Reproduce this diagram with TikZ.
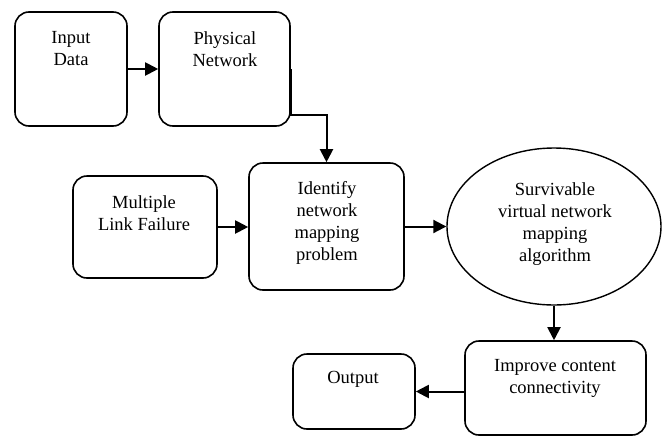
\documentclass[tikz,border=0pt]{standalone}
\usepackage{fontspec}
\setmainfont{Liberation Serif}
\usetikzlibrary{shapes.geometric,arrows.meta,positioning}
\begin{document}
\begin{tikzpicture}[x=1pt,y=-1pt,
  box/.style={draw, line width=1.6pt, rounded corners=14pt, inner sep=0pt},
  txt/.style={align=center, font=\fontsize{18.5pt}{22pt}\selectfont, inner sep=0pt},
  arr/.style={line width=2pt, -{Triangle[length=13pt,width=13pt]}}]
\useasboundingbox (0,0) rectangle (664,437);
% boxes
\node[box, minimum width=112pt, minimum height=114pt] (inp) at (71,69) {};
\node[box, minimum width=131pt, minimum height=114pt] (phy) at (224.5,69) {};
\node[box, minimum width=144pt, minimum height=102pt] (mlf) at (145,227) {};
\node[box, minimum width=155pt, minimum height=127pt] (idf) at (326.5,226.5) {};
\node[draw, line width=1.4pt, ellipse, minimum width=214pt, minimum height=157pt, inner sep=0pt] (alg) at (554,226.5) {};
\node[box, minimum width=181pt, minimum height=94pt] (imp) at (555.5,388) {};
\node[box, minimum width=122pt, minimum height=75pt] (out) at (354,391.5) {};
% texts
\node[txt] (tinp) at (71,49) {Input\\Data};
\node[txt] (tphy) at (225,49) {Physical\\Network};
\node[txt] (tmlf) at (144,213.5) {Multiple\\Link Failure};
\node[txt] (tidf) at (327,223) {Identify\\network\\mapping\\problem};
\node[txt] (talg) at (555,224) {Survivable\\virtual network\\mapping\\algorithm};
\node[txt] (timp) at (555,378.5) {Improve content\\connectivity};
\node[txt] (tout) at (353,379) {Output};
% connectors
\draw[arr] (inp.east) -- (phy.west);
\draw[arr] (phy.east) -- ([yshift=-46pt]phy.east) -| (idf.north);
\draw[arr] (mlf.east) -- (mlf.east -| idf.west);
\draw[arr] (idf.east) -- (idf.east -| alg.west);
\draw[arr] (alg.south) -- (alg.south |- imp.north);
\draw[arr] (imp.west |- out.east) -- (out.east);
\end{tikzpicture}
\end{document}
